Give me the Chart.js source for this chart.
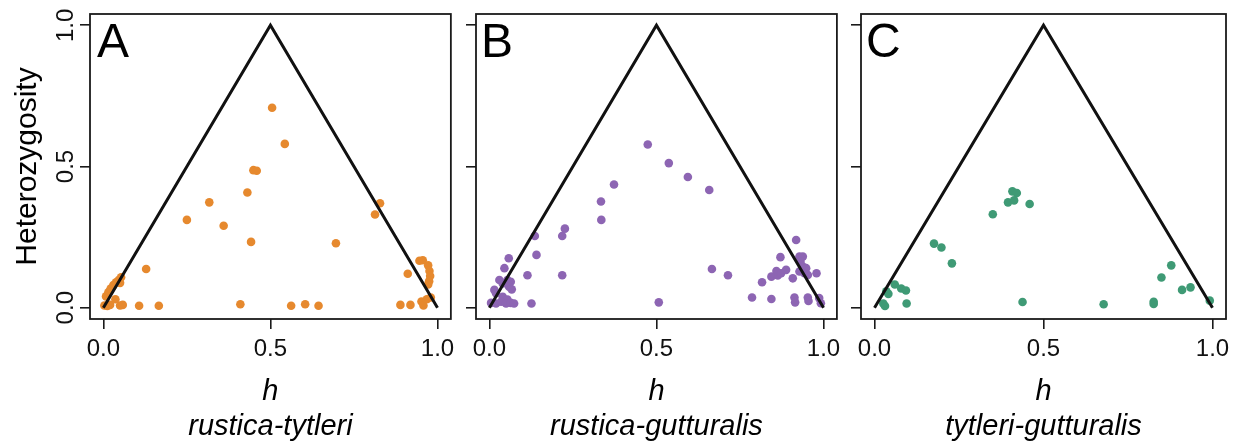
<!DOCTYPE html>
<html>
<head>
<meta charset="utf-8">
<script src="https://cdn.jsdelivr.net/npm/chart.js@4/dist/chart.umd.min.js"></script>
<style>
  html, body { margin: 0; padding: 0; background: #fff; }
  .panel { position: absolute; top: 0; height: 448px; }
</style>
</head>
<body>
<div class="panel" style="left:0px;width:460px"><canvas id="chartA" width="460" height="448"></canvas></div>
<div class="panel" style="left:460px;width:386px"><canvas id="chartB" width="386" height="448"></canvas></div>
<div class="panel" style="left:846px;width:392px"><canvas id="chartC" width="392" height="448"></canvas></div>
<script>
// hybrid index h vs heterozygosity, one pair of arrays per panel
const hA = [0.505, 0.543, 0.449, 0.459, 0.431, 0.317, 0.250, 0.360, 0.442, 0.696, 0.828, 0.813, 0.128,
  0.410, 0.562, 0.604, 0.644,
  0.003, 0.012, 0.020, 0.008, 0.015, 0.022, 0.030, 0.038, 0.046, 0.053, 0.050, 0.036, 0.050, 0.058, 0.107, 0.166,
  0.946, 0.956, 0.972, 0.976, 0.978, 0.975, 0.972, 0.911, 0.889, 0.919, 0.952, 0.958, 0.968, 0.980];
const hetA = [0.708, 0.580, 0.487, 0.485, 0.408, 0.373, 0.311, 0.290, 0.233, 0.228, 0.370, 0.330, 0.137,
  0.012, 0.007, 0.012, 0.007,
  0.008, 0.006, 0.010, 0.040, 0.055, 0.068, 0.080, 0.090, 0.098, 0.108, 0.088, 0.030, 0.008, 0.010, 0.007, 0.007,
  0.166, 0.168, 0.150, 0.130, 0.112, 0.094, 0.082, 0.120, 0.010, 0.010, 0.022, 0.008, 0.030, 0.036];

const hB = [0.474, 0.537, 0.594, 0.658, 0.373, 0.334, 0.335, 0.226, 0.218, 0.136, 0.141, 0.114, 0.218,
  0.126, 0.507, 0.666, 0.714,
  0.058, 0.045, 0.030, 0.054, 0.064, 0.040, 0.059, 0.067, 0.015, 0.020, 0.040, 0.054,
  0.005, 0.020, 0.035, 0.050, 0.064, 0.074,
  0.918, 0.871, 0.928, 0.938, 0.931, 0.938, 0.948, 0.928, 0.943, 0.953, 0.816, 0.844, 0.863, 0.859,
  0.873, 0.888, 0.908, 0.979, 0.786, 0.844, 0.913, 0.915, 0.953, 0.955, 0.987, 0.992];
const hetB = [0.578, 0.512, 0.463, 0.417, 0.436, 0.376, 0.311, 0.280, 0.254, 0.254, 0.187, 0.115, 0.115,
  0.015, 0.019, 0.137, 0.115,
  0.175, 0.140, 0.098, 0.098, 0.092, 0.086, 0.074, 0.065, 0.063, 0.051, 0.039, 0.029,
  0.017, 0.015, 0.021, 0.015, 0.017, 0.015,
  0.240, 0.179, 0.181, 0.181, 0.163, 0.146, 0.140, 0.128, 0.122, 0.116, 0.090, 0.110, 0.114, 0.130,
  0.122, 0.134, 0.104, 0.122, 0.036, 0.031, 0.036, 0.019, 0.036, 0.024, 0.034, 0.016];

const hC = [0.408, 0.421, 0.395, 0.413, 0.459, 0.350, 0.176, 0.198, 0.229, 0.060, 0.079, 0.093, 0.035,
  0.041, 0.026, 0.031, 0.095, 0.438, 0.678, 0.826, 0.826, 0.878, 0.849, 0.910, 0.935, 0.992];
const hetC = [0.412, 0.406, 0.373, 0.380, 0.367, 0.331, 0.227, 0.213, 0.157, 0.082, 0.068, 0.061, 0.058,
  0.049, 0.015, 0.006, 0.015, 0.020, 0.012, 0.021, 0.013, 0.150, 0.107, 0.063, 0.072, 0.025];

// triangle of maximum heterozygosity
const triH = [0, 0.5, 1];
const triHet = [0, 1, 0];

const tickVals = [0, 0.5, 1];
const tickLabels = ["0.0", "0.5", "1.0"];

const FONT = '"Liberation Sans", Arial, Helvetica, sans-serif';
const INK = "#1a1a1a";

const framePlugin = {
  id: "frame",
  afterDatasetsDraw(chart, args, opts) {
    const { ctx, chartArea: a } = chart;
    ctx.save();
    ctx.strokeStyle = INK;
    ctx.lineWidth = 1.8;
    ctx.strokeRect(a.left, a.top, a.right - a.left, a.bottom - a.top);
    ctx.fillStyle = "#000";
    ctx.font = "48px " + FONT;
    ctx.textBaseline = "alphabetic";
    ctx.fillText(opts.letter, a.left + opts.dx, a.top + 43);
    ctx.restore();
  }
};

function makePanel(id, hs, hets, color, letter, subtitle, cfg) {
  const pts = hs.map((h, i) => ({ x: h, y: hets[i] }));
  const tri = triH.map((h, i) => ({ x: h, y: triHet[i] }));
  const setTicks = (scale) => { scale.ticks = tickVals.map(v => ({ value: v })); };

  new Chart(document.getElementById(id), {
    type: "scatter",
    data: {
      datasets: [
        {
          type: "line",
          data: tri,
          borderColor: "#111",
          borderWidth: 3,
          pointRadius: 0,
          tension: 0,
          fill: false
        },
        {
          data: pts,
          backgroundColor: color,
          borderWidth: 0,
          pointRadius: 4.3
        }
      ]
    },
    options: {
      responsive: false,
      animation: false,
      layout: { padding: { left: 0, top: 14, right: cfg.right, bottom: 0 } },
      plugins: {
        legend: { display: false },
        tooltip: { enabled: false },
        frame: { letter: letter, dx: cfg.dx }
      },
      scales: {
        x: {
          type: "linear",
          min: -0.04,
          max: 1.04,
          afterBuildTicks: setTicks,
          afterFit: (s) => { s.height = 129; },
          border: { display: false },
          grid: { drawOnChartArea: false, drawTicks: true, tickLength: 10, color: INK, lineWidth: 1.6 },
          ticks: {
            color: "#111",
            padding: 5.6,
            maxRotation: 0,
            font: { family: FONT, size: 24 },
            callback: (v) => tickLabels[tickVals.indexOf(v)]
          },
          title: {
            display: true,
            text: ["h", subtitle],
            color: "#000",
            padding: { top: 0, bottom: 4 },
            font: { family: FONT, size: 29, style: "italic", lineHeight: 1.207 }
          }
        },
        y: {
          type: "linear",
          min: -0.04,
          max: 1.04,
          afterBuildTicks: setTicks,
          afterFit: (s) => { s.width = cfg.yWidth; },
          border: { display: false },
          grid: { drawOnChartArea: false, drawTicks: true, tickLength: 10, color: INK, lineWidth: 1.6 },
          ticks: {
            display: cfg.yLabels,
            color: "#111",
            padding: -3,
            minRotation: 90,
            maxRotation: 90,
            crossAlign: "center",
            font: { family: FONT, size: 24 },
            callback: (v) => tickLabels[tickVals.indexOf(v)]
          },
          title: {
            display: cfg.yLabels,
            text: "Heterozygosity",
            color: "#000",
            padding: { top: 9.6, bottom: 0 },
            font: { family: FONT, size: 30 }
          }
        }
      }
    },
    plugins: [framePlugin]
  });
}

makePanel("chartA", hA, hetA, "#E6892E", "A", "rustica-tytleri", { right: 6, yWidth: 90, yLabels: true, dx: 7 });
makePanel("chartB", hB, hetB, "#8D65B3", "B", "rustica-gutturalis", { right: 5, yWidth: 16, yLabels: false, dx: 5 });
makePanel("chartC", hC, hetC, "#3F9A75", "C", "tytleri-gutturalis", { right: 12, yWidth: 15, yLabels: false, dx: 5 });
</script>
</body>
</html>
